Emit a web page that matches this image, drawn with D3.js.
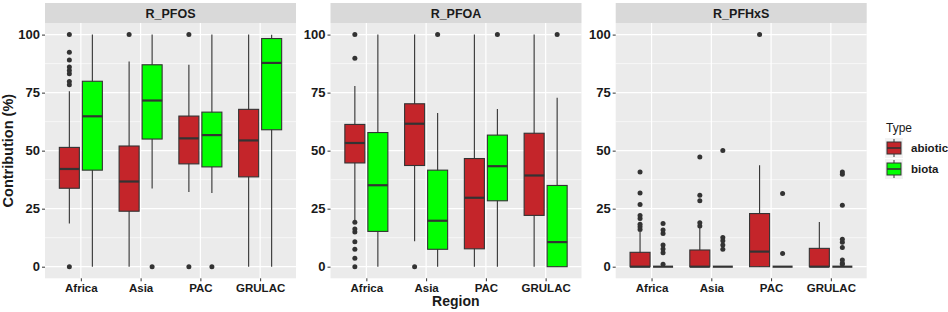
<!DOCTYPE html>
<html>
<head>
<meta charset="utf-8">
<script src="https://cdn.jsdelivr.net/npm/d3@7"></script>
<style>
  body { margin: 0; background: #fff; }
  text { font-family: "Liberation Sans", Arial, sans-serif; }
</style>
</head>
<body>
<div id="container"></div>
<script>
/* DATA */
const regions = ["Africa", "Asia", "PAC", "GRULAC"];
const types = ["abiotic", "biota"];
const panels = ["R_PFOS", "R_PFOA", "R_PFHxS"];
const yTicks = [0, 25, 50, 75, 100];

// each box: [lower whisker, q1, median, q3, upper whisker, outliers]
const pfosAbiotic = [
  [18.6, 33.8, 42.1, 51.4, 75.6, [0, 78.4, 79.8, 83.1, 84.5, 86, 89.1, 92.4, 100]],
  [0, 23.9, 36.7, 52, 88.4, [100]],
  [32.2, 44.3, 55.3, 64.9, 87, [0, 100]],
  [0, 38.7, 54.4, 67.8, 100, []]
];
const pfosBiota = [
  [0, 41.6, 64.8, 79.9, 100, []],
  [33.7, 55, 71.6, 87, 100, [0]],
  [31.8, 43, 56.7, 66.6, 100, [0]],
  [0, 59, 87.8, 98.3, 99.9, []]
];
const pfoaAbiotic = [
  [20, 44.7, 53.3, 61.3, 77.9, [0, 3.6, 7.5, 10.7, 15, 16.2, 19.1, 89.8, 100]],
  [11, 43.6, 61.6, 70.2, 100, [0]],
  [0, 7.7, 29.7, 46.6, 100, []],
  [0, 22.1, 39.3, 57.5, 100, []]
];
const pfoaBiota = [
  [0, 15.2, 35.1, 57.8, 100, []],
  [0, 7.5, 19.8, 41.6, 66.2, [100]],
  [0, 28.4, 43.3, 56.7, 67.9, [100]],
  [0, 0, 10.6, 35, 72.8, [100]]
];
const pfhxsAbiotic = [
  [0, 0, 0, 6.2, 15, [16, 17.2, 18.3, 20.8, 22.1, 26.8, 31.8, 40.8]],
  [0, 0, 0, 7.2, 17, [17.5, 18.9, 28.4, 30.8, 47.3]],
  [0, 0, 6.5, 22.9, 43.7, [100]],
  [0, 0, 0, 7.9, 19.3, []]
];
const pfhxsBiota = [
  [0, 0, 0, 0, 0, [1, 6, 7.6, 9.3, 14.3, 15.8, 18.6]],
  [0, 0, 0, 0, 0, [7.5, 9.3, 11.2, 12.6, 50.1]],
  [0, 0, 0, 0, 0, [5.7, 31.5]],
  [0, 0, 0, 0, 0, [1, 1.5, 2.9, 8.3, 10.5, 11.8, 26.5, 39.8, 40.8]]
];

const panelData = {
  R_PFOS: { abiotic: pfosAbiotic, biota: pfosBiota },
  R_PFOA: { abiotic: pfoaAbiotic, biota: pfoaBiota },
  R_PFHxS: { abiotic: pfhxsAbiotic, biota: pfhxsBiota }
};

/* CONSTANTS */
const width = 948, height = 312;
const panelLeft = [45, 330.5, 615.7];
const panelW = 251;
const stripTop = 3, stripH = 20;
const plotTop = stripTop + stripH, plotBottom = 278.3;
const ink = "#333333";

const colorScale = d3.scaleOrdinal()
  .domain(types)
  .range(["#C4252A", "#00FF00"]);

const svg = d3.select("#container")
  .append("svg")
  .attr("width", width)
  .attr("height", height);

svg.append("rect").attr("width", width).attr("height", height).attr("fill", "#fff");

const yScale = d3.scaleLinear()
  .domain([-5, 105])
  .range([plotBottom, plotTop]);

const xScale = d3.scalePoint()
  .domain(regions)
  .range([0, panelW])
  .padding(0.6);

const dodge = d3.scaleBand()
  .domain(types)
  .range([-0.385 * xScale.step(), 0.385 * xScale.step()]);
const boxW = dodge.bandwidth() * 0.87;

panels.forEach((name, pi) => {
  const g = svg.append("g")
    .attr("transform", `translate(${panelLeft[pi]},0)`);

  // strip
  g.append("rect")
    .attr("x", 0).attr("y", stripTop)
    .attr("width", panelW).attr("height", stripH)
    .attr("fill", "#d9d9d9");
  g.append("text")
    .attr("x", panelW / 2).attr("y", stripTop + stripH / 2 + 4.5)
    .attr("text-anchor", "middle")
    .attr("font-size", 12.5).attr("font-weight", "bold")
    .attr("fill", "#1a1a1a")
    .text(name);

  // panel background
  g.append("rect")
    .attr("x", 0).attr("y", plotTop)
    .attr("width", panelW).attr("height", plotBottom - plotTop)
    .attr("fill", "#ebebeb");

  // minor grid
  g.selectAll(".minor")
    .data([12.5, 37.5, 62.5, 87.5])
    .join("line")
    .attr("x1", 0).attr("x2", panelW)
    .attr("y1", d => yScale(d)).attr("y2", d => yScale(d))
    .attr("stroke", "#fff").attr("stroke-width", 0.6);

  // major grid
  g.selectAll(".majorY")
    .data(yTicks)
    .join("line")
    .attr("x1", 0).attr("x2", panelW)
    .attr("y1", d => yScale(d)).attr("y2", d => yScale(d))
    .attr("stroke", "#fff").attr("stroke-width", 1.2);
  g.selectAll(".majorX")
    .data(regions)
    .join("line")
    .attr("x1", d => xScale(d)).attr("x2", d => xScale(d))
    .attr("y1", plotTop).attr("y2", plotBottom)
    .attr("stroke", "#fff").attr("stroke-width", 1.2);

  // axes
  const yAxis = g.append("g")
    .call(d3.axisLeft(yScale).tickValues(yTicks).tickSize(3).tickPadding(2));
  yAxis.select(".domain").remove();
  yAxis.selectAll("line").attr("stroke", ink);
  yAxis.selectAll("text")
    .attr("font-size", 13).attr("font-weight", "bold").attr("fill", "#1a1a1a")
    .style("font-family", "Liberation Sans, Arial, sans-serif");

  const xAxis = g.append("g")
    .attr("transform", `translate(0,${plotBottom})`)
    .call(d3.axisBottom(xScale).tickSize(3).tickPadding(2.5));
  xAxis.select(".domain").remove();
  xAxis.selectAll("line").attr("stroke", ink);
  xAxis.selectAll("text")
    .attr("font-size", 11.5).attr("font-weight", "bold").attr("fill", "#1a1a1a")
    .style("font-family", "Liberation Sans, Arial, sans-serif");

  // boxes
  types.forEach(type => {
    const rows = panelData[name][type].map((d, i) => ({
      region: regions[i], lo: d[0], q1: d[1], med: d[2], q3: d[3], hi: d[4], out: d[5]
    }));
    const cx = d => xScale(d.region) + dodge(type) + dodge.bandwidth() / 2;

    const bx = g.append("g");
    bx.selectAll(".whisker")
      .data(rows)
      .join("line")
      .attr("x1", cx).attr("x2", cx)
      .attr("y1", d => yScale(d.lo)).attr("y2", d => yScale(d.hi))
      .attr("stroke", ink).attr("stroke-width", 1.1);
    bx.selectAll(".box")
      .data(rows)
      .join("rect")
      .attr("x", d => cx(d) - boxW / 2)
      .attr("y", d => yScale(d.q3))
      .attr("width", boxW)
      .attr("height", d => yScale(d.q1) - yScale(d.q3))
      .attr("fill", colorScale(type))
      .attr("stroke", ink).attr("stroke-width", 1.1);
    bx.selectAll(".median")
      .data(rows)
      .join("line")
      .attr("x1", d => cx(d) - boxW / 2).attr("x2", d => cx(d) + boxW / 2)
      .attr("y1", d => yScale(d.med)).attr("y2", d => yScale(d.med))
      .attr("stroke", ink).attr("stroke-width", 2.2);
    bx.selectAll(".outlier")
      .data(rows.flatMap(d => d.out.map(v => ({ region: d.region, v }))))
      .join("circle")
      .attr("cx", cx)
      .attr("cy", d => yScale(d.v))
      .attr("r", 2.5)
      .attr("fill", ink);
  });
});

// axis titles
svg.append("text")
  .attr("x", (panelLeft[0] + panelLeft[2] + panelW) / 2)
  .attr("y", 306)
  .attr("text-anchor", "middle")
  .attr("font-size", 14).attr("font-weight", "bold").attr("fill", "#1a1a1a")
  .text("Region");
svg.append("text")
  .attr("transform", `translate(13,${(plotTop + plotBottom) / 2}) rotate(-90)`)
  .attr("text-anchor", "middle")
  .attr("font-size", 14.5).attr("font-weight", "bold").attr("fill", "#1a1a1a")
  .text("Contribution (%)");

// legend
const legend = svg.append("g").attr("transform", "translate(886,0)");
legend.append("text")
  .attr("x", 0).attr("y", 132)
  .attr("font-size", 12).attr("fill", "#1a1a1a")
  .text("Type");
types.forEach((t, i) => {
  const cy = 148 + i * 21;
  const k = legend.append("g").attr("transform", `translate(0,${cy})`);
  k.append("rect").attr("x", -1).attr("y", -10).attr("width", 18).attr("height", 20).attr("fill", "#f2f2f2");
  k.append("line").attr("x1", 8).attr("x2", 8).attr("y1", -9).attr("y2", 9).attr("stroke", ink);
  k.append("rect").attr("x", 1).attr("y", -6).attr("width", 14).attr("height", 12)
    .attr("fill", colorScale(t)).attr("stroke", ink).attr("stroke-width", 1);
  k.append("line").attr("x1", 1).attr("x2", 15).attr("y1", 0).attr("y2", 0)
    .attr("stroke", ink).attr("stroke-width", 1.6);
  k.append("text")
    .attr("x", 25).attr("y", 4)
    .attr("font-size", 11.5).attr("font-weight", "bold").attr("fill", "#1a1a1a")
    .text(t);
});
</script>
</body>
</html>
